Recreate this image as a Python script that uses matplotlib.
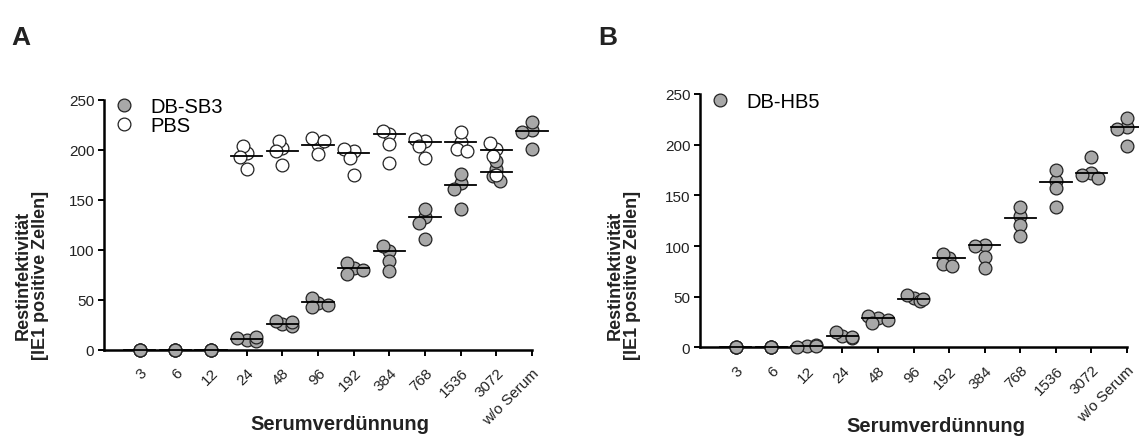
import matplotlib
matplotlib.use('Agg')
import matplotlib.pyplot as plt
import numpy as np

plt.rcParams['font.family'] = ['Liberation Sans', 'DejaVu Sans']

# dilution steps on the x axis
dilutions = ['3', '6', '12', '24', '48', '96', '192', '384', '768', '1536', '3072', 'w/o Serum']

# panel A, DB-SB3 (four replicates per dilution)
sb3_vals = [[0, 0, 0, 0], [0, 0, 0, 0], [0, 0, 0, 0],
            [10, 12, 9, 13], [26, 29, 24, 28], [47, 52, 43, 45],
            [82, 87, 76, 80], [99, 104, 89, 79], [133, 141, 127, 111],
            [167, 176, 161, 141], [181, 189, 174, 169], [220, 228, 218, 201]]
sb3_med = [0, 0, 0, 11, 26, 48, 82, 99, 133, 165, 178, 219]

# panel A, PBS control (only from 24 on)
pbs_pos = [3, 4, 5, 6, 7, 8, 9, 10]
pbs_vals = [[197, 204, 193, 181], [202, 209, 199, 185], [206, 212, 209, 196],
            [199, 201, 192, 175], [216, 219, 206, 187], [209, 211, 204, 192],
            [208, 218, 201, 199], [201, 207, 194, 175]]
pbs_med = [194, 199, 205, 197, 216, 208, 208, 200]

# panel B, DB-HB5
hb5_vals = [[0, 0, 0, 0], [0, 0, 0, 0], [1, 0.5, 2, 1.5],
            [11, 15, 9, 10], [29, 31, 27, 24], [49, 52, 46, 48],
            [88, 92, 82, 80], [101, 100, 89, 78], [130, 139, 121, 110],
            [164, 175, 157, 139], [172, 188, 170, 167], [217, 226, 215, 199]]
hb5_med = [0, 0, 1, 11, 29, 48, 88, 101, 128, 163, 172, 217]

GREY = '#a8a8a8'
EDGE = '#222222'
MS = 9.2


def swarm(ax, xc, vals, diam):
    # push points sideways until they overlap only a little
    trans = ax.transData
    placed, xs = [], []
    for v in vals:
        same = [x for x, (pv, _) in zip(xs, placed) if pv == v]
        if same:
            xs.append(same[0]); placed.append((v, None))
            continue
        for dx in [0, -0.09, 0.09, -0.18, 0.18, -0.27, 0.27]:
            p = trans.transform((xc + dx, v))
            ok = True
            for pv, q in placed:
                if q is not None and np.hypot(*(p - q)) < diam * 0.55:
                    ok = False
                    break
            if ok:
                break
        xs.append(xc + dx); placed.append((v, p))
    return xs


def group(ax, xc, vals, med, face):
    xs = swarm(ax, xc, vals, MS * 100 / 72)
    ax.plot(xs, vals, 'o', ms=MS, mfc=face, mec=EDGE, mew=0.9,
            ls='none', clip_on=False, zorder=4)
    ax.plot([xc - 0.44, xc + 0.44], [med, med], color='black', lw=1.3,
            clip_on=False, zorder=5)


def style(ax):
    ax.set_xlim(0, 12)
    ax.set_ylim(0, 250)
    for s in ['top', 'right']:
        ax.spines[s].set_visible(False)
    for s in ['left', 'bottom']:
        ax.spines[s].set_linewidth(1.8)
        ax.spines[s].set_zorder(3)
    ax.set_yticks(np.arange(0, 251, 50))
    ax.set_xticks(np.arange(1, 13))
    ax.set_xticklabels(dilutions, rotation=45, ha='right', rotation_mode='anchor')
    ax.tick_params(axis='both', direction='out', length=4, width=1.4, labelsize=11,
                   color='black', labelcolor='#222222')
    ax.tick_params(axis='x', pad=7)
    ax.tick_params(axis='y', pad=3)


fig = plt.figure(figsize=(11.39, 4.39), dpi=100)
axA = fig.add_axes([0.0913, 0.2005, 0.3758, 0.5695])
axB = fig.add_axes([0.6146, 0.2062, 0.3749, 0.5774])
style(axA)
style(axB)

for i in range(len(dilutions)):
    group(axA, i + 1, sb3_vals[i], sb3_med[i], GREY)
for j, i in enumerate(pbs_pos):
    group(axA, i + 1, pbs_vals[j], pbs_med[j], 'white')
for i in range(len(dilutions)):
    group(axB, i + 1, hb5_vals[i], hb5_med[i], GREY)

# legends
hA1, = axA.plot([], [], 'o', ms=MS, mfc=GREY, mec=EDGE, mew=0.9)
hA2, = axA.plot([], [], 'o', ms=MS, mfc='white', mec=EDGE, mew=0.9)
axA.legend([hA1, hA2], ['DB-SB3', 'PBS'], loc='upper left', bbox_to_anchor=(0.0, 1.045),
           frameon=False, fontsize=14.5, handlelength=1.2, handletextpad=0.7,
           labelspacing=0.0, borderaxespad=0)
hB1, = axB.plot([], [], 'o', ms=MS, mfc=GREY, mec=EDGE, mew=0.9)
axB.legend([hB1], ['DB-HB5'], loc='upper left', bbox_to_anchor=(0.0, 1.04),
           frameon=False, fontsize=14.5, handlelength=1.2, handletextpad=0.7,
           borderaxespad=0)

W, H = 1139, 439
ylab = 'Restinfektivität\n[IE1 positive Zellen]'
fig.text(32 / W, 1 - 275 / H, ylab, rotation=90, ha='center', va='center',
         fontsize=13, fontweight='bold', color='#222222', linespacing=1.05)
fig.text(624 / W, 1 - 275 / H, ylab, rotation=90, ha='center', va='center',
         fontsize=13, fontweight='bold', color='#222222', linespacing=1.05)
fig.text(340 / W, 1 - 425 / H, 'Serumverdünnung', ha='center', va='center',
         fontsize=14.5, fontweight='bold', color='#222222')
fig.text(936 / W, 1 - 427 / H, 'Serumverdünnung', ha='center', va='center',
         fontsize=14.5, fontweight='bold', color='#222222')
fig.text(21 / W, 1 - 38 / H, 'A', ha='center', va='center', fontsize=19,
         fontweight='bold', color='#222222')
fig.text(608 / W, 1 - 38 / H, 'B', ha='center', va='center', fontsize=19,
         fontweight='bold', color='#222222')

fig.savefig('out.png', dpi=100)
